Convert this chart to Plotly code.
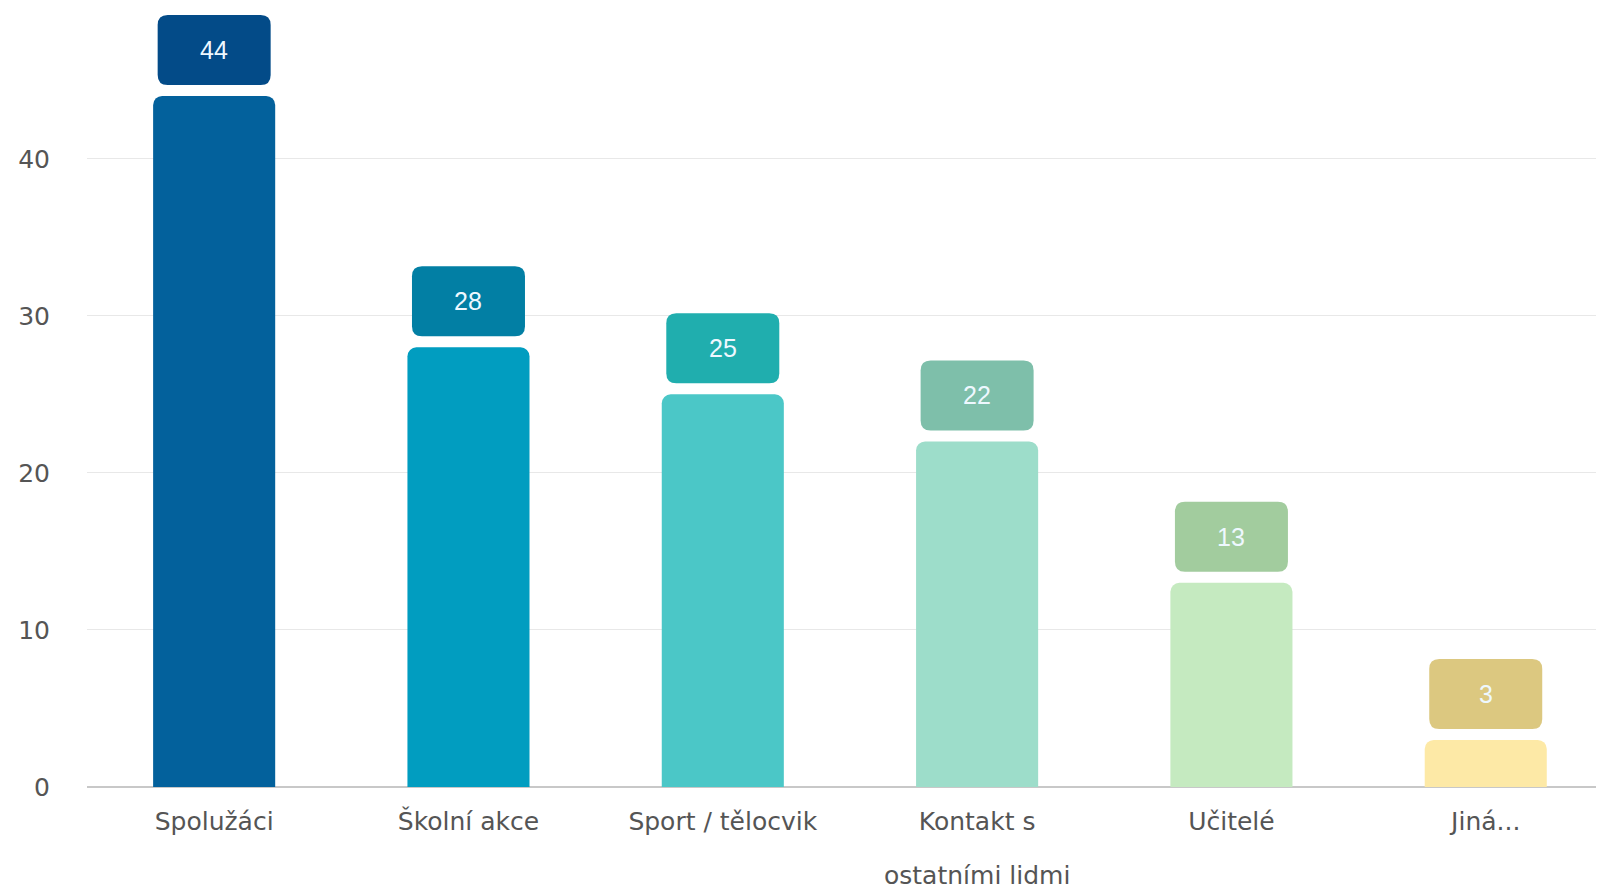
import plotly.graph_objects as go

categories = ["Spolužáci", "Školní akce", "Sport / tělocvik",
              "Kontakt s\nostatními lidmi", "Učitelé", "Jiná..."]
values = [44, 28, 25, 22, 13, 3]
y_ticks = [0, 10, 20, 30, 40]

bar_colors = ["#03619C", "#019DC0", "#4BC7C7", "#9DDDCA", "#C5EAC0", "#FDE9A6"]
box_colors = ["#034B88", "#027FA4", "#20AEAE", "#7EBFAA", "#A2CC9E", "#DCC880"]

tick_font = dict(family="DejaVu Sans", size=25, color="#555555")

fig = go.Figure()
fig.add_trace(go.Bar(
    x=list(range(len(categories))), y=values,
    marker=dict(color=bar_colors, cornerradius=9, line=dict(width=0)),
    hoverinfo="skip",
))

# rounded label boxes (pixel-sized, anchored at each bar's value)
W, H, G, R = 113, 70, 11, 10
x0, x1 = -W / 2, W / 2
y0, y1 = G, G + H
path = (f"M {x0+R},{y0} L {x1-R},{y0} Q {x1},{y0} {x1},{y0+R} "
        f"L {x1},{y1-R} Q {x1},{y1} {x1-R},{y1} L {x0+R},{y1} "
        f"Q {x0},{y1} {x0},{y1-R} L {x0},{y0+R} Q {x0},{y0} {x0+R},{y0} Z")
for i, v in enumerate(values):
    fig.add_shape(type="path", xref="x", yref="y",
                  xsizemode="pixel", ysizemode="pixel",
                  xanchor=i, yanchor=v, path=path,
                  fillcolor=box_colors[i], line=dict(width=0), layer="above")
    fig.add_annotation(x=i, y=v, text=str(v), showarrow=False,
                       yshift=G + H / 2, xanchor="center", yanchor="middle",
                       font=dict(family="Liberation Sans, Arial", size=25,
                                 color="#EEF8FF"))

# category labels: first line as tick label, wrapped rest placed further below
first_lines = [c.split("\n")[0] for c in categories]
for i, c in enumerate(categories):
    rest = c.split("\n")[1:]
    for k, line in enumerate(rest):
        fig.add_annotation(x=i, y=0, text=line, showarrow=False,
                           xanchor="center", yanchor="middle",
                           yshift=-88 - 53 * k, font=tick_font)

fig.update_layout(
    width=1596, height=881,
    margin=dict(l=79, r=0, t=0, b=102),
    paper_bgcolor="white", plot_bgcolor="white",
    bargap=0.52, showlegend=False,
    xaxis=dict(tickmode="array", tickvals=list(range(len(categories))),
               ticktext=first_lines, showgrid=False, showline=False,
               zeroline=False, ticks="", ticklabelstandoff=17,
               tickfont=tick_font,
               range=[-0.5, 5.465]),
    yaxis=dict(range=[0, 49.6], tickvals=y_ticks, showgrid=True,
               gridcolor="#E8E8E8", gridwidth=1, zeroline=True,
               zerolinecolor="#C8C8C8", zerolinewidth=1.5, showline=False,
               ticks="", ticklabelstandoff=36,
               tickfont=tick_font),
)

fig.write_html("out.html")
